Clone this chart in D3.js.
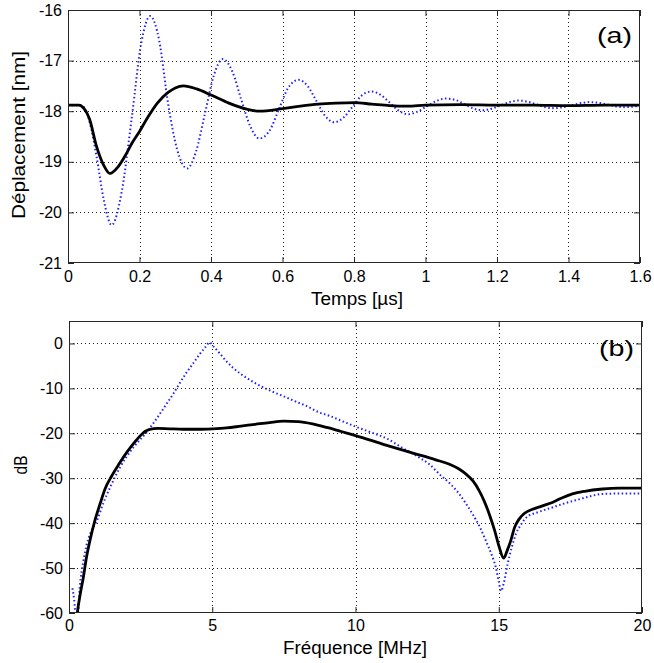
<!DOCTYPE html>
<html>
<head>
<meta charset="utf-8">
<script src="https://cdn.jsdelivr.net/npm/d3@7"></script>
<style>
  html, body { margin: 0; padding: 0; background: #fff; }
  svg { display: block; font-family: "Liberation Sans", Arial, Helvetica, sans-serif; }
</style>
</head>
<body>
<svg id="chart" width="654" height="663"></svg>
<script>
// ---------- Panel (a): time domain ----------
const timeTicks = [0, 0.2, 0.4, 0.6, 0.8, 1, 1.2, 1.4, 1.6];
const dispTicks = [-21, -20, -19, -18, -17, -16];

const timeBlack = [0, 0.03, 0.045, 0.06, 0.08, 0.1, 0.117, 0.14, 0.16, 0.18, 0.2, 0.225, 0.25, 0.28, 0.3, 0.323, 0.36, 0.4, 0.45, 0.5, 0.535, 0.6, 0.65, 0.7, 0.75, 0.8, 0.85, 0.9, 0.95, 1.0, 1.1, 1.2, 1.3, 1.4, 1.5, 1.6];
const dispBlack = [-17.88, -17.88, -17.95, -18.15, -18.7, -19.07, -19.23, -19.1, -18.88, -18.62, -18.4, -18.1, -17.84, -17.63, -17.54, -17.5, -17.56, -17.68, -17.84, -17.96, -18.0, -17.95, -17.9, -17.86, -17.84, -17.83, -17.86, -17.89, -17.9, -17.88, -17.87, -17.88, -17.88, -17.89, -17.88, -17.88];

const timeBlue = [0, 0.035, 0.05, 0.065, 0.08, 0.1, 0.122, 0.15, 0.178, 0.205, 0.23, 0.255, 0.28, 0.305, 0.333, 0.358, 0.383, 0.408, 0.433, 0.46, 0.485, 0.51, 0.535, 0.565, 0.59, 0.615, 0.645, 0.67, 0.695, 0.72, 0.745, 0.77, 0.795, 0.82, 0.848, 0.875, 0.9, 0.925, 0.952, 0.98, 1.0, 1.03, 1.055, 1.085, 1.11, 1.135, 1.16, 1.185, 1.21, 1.235, 1.26, 1.285, 1.31, 1.335, 1.36, 1.385, 1.41, 1.435, 1.46, 1.485, 1.51, 1.535, 1.56, 1.58, 1.6];
const dispBlue = [-17.88, -17.88, -17.98, -18.35, -18.9, -19.75, -20.25, -19.6, -18.15, -16.65, -16.12, -16.6, -17.85, -18.75, -19.13, -18.8, -18.05, -17.29, -16.97, -17.22, -17.78, -18.3, -18.54, -18.37, -17.96, -17.55, -17.38, -17.5, -17.8, -18.1, -18.22, -18.13, -17.92, -17.7, -17.61, -17.68, -17.83, -17.99, -18.06, -18.0, -17.92, -17.8, -17.75, -17.78, -17.865, -17.95, -17.98, -17.95, -17.885, -17.82, -17.79, -17.81, -17.865, -17.92, -17.94, -17.92, -17.88, -17.84, -17.82, -17.835, -17.87, -17.905, -17.92, -17.91, -17.89];

// ---------- Panel (b): frequency domain ----------
const freqTicks = [0, 5, 10, 15, 20];
const dbTicks = [-60, -50, -40, -30, -20, -10, 0];

const freqBlack = [0.2, 0.29, 0.4, 0.5, 0.6, 0.73, 0.9, 1.08, 1.25, 1.49, 1.75, 2.01, 2.25, 2.48, 2.65, 2.82, 3.1, 3.5, 4.0, 4.5, 5.0, 5.5, 6.0, 6.5, 7.0, 7.5, 8.0, 8.5, 9.0, 9.5, 10.0, 11.0, 12.0, 12.8, 13.28, 13.6, 13.86, 14.1, 14.32, 14.5, 14.67, 14.85, 15.02, 15.17, 15.3, 15.42, 15.55, 15.71, 15.9, 16.18, 16.5, 16.87, 17.2, 17.57, 18.0, 18.62, 19.2, 20];
const dbBlack = [-66, -60, -55.5, -52.1, -48, -43.9, -39.5, -35.8, -32.5, -29.5, -26.8, -24.3, -22.3, -20.6, -19.6, -19.1, -18.9, -19.0, -19.1, -19.1, -19.0, -18.8, -18.4, -18.0, -17.6, -17.3, -17.4, -17.9, -18.7, -19.6, -20.5, -22.5, -24.4, -25.9, -26.9, -27.9, -29.1, -30.6, -32.8, -35.2, -38.0, -41.5, -45.4, -47.8, -46.0, -43.9, -41.0, -39.1, -37.8, -36.9, -36.2, -35.4, -34.4, -33.5, -32.9, -32.4, -32.2, -32.2];

const freqBlue = [0.12, 0.18, 0.24, 0.3, 0.38, 0.5, 0.62, 0.8, 0.97, 1.2, 1.43, 1.6, 1.78, 2.0, 2.24, 2.5, 2.71, 2.95, 3.17, 3.4, 3.63, 3.85, 4.1, 4.35, 4.56, 4.75, 4.91, 5.05, 5.26, 5.5, 5.72, 6.0, 6.31, 6.6, 6.89, 7.2, 7.58, 7.9, 8.28, 8.75, 9.09, 9.5, 10, 10.5, 11.07, 11.65, 12.23, 12.6, 12.93, 13.3, 13.62, 13.85, 14.09, 14.35, 14.55, 14.75, 14.9, 15.0, 15.08, 15.17, 15.31, 15.45, 15.6, 15.78, 15.95, 16.4, 16.87, 17.3, 17.8, 18.2, 18.62, 19.3, 20];
const dbBlue = [-54.5, -57, -61, -61, -54, -48.5, -44.7, -41.5, -39.5, -35.5, -32.1, -29.8, -27.6, -25.3, -23.2, -21.3, -19.8, -17.7, -15.7, -13.5, -11.3, -9.0, -6.5, -4.3, -2.4, -0.9, 0.2, -0.7, -2.2, -4.0, -5.4, -6.8, -8.1, -9.2, -10.1, -11.0, -12.0, -12.9, -13.9, -15.4, -16.1, -17.2, -18.5, -19.7, -21.1, -23.3, -25.4, -27.0, -29.1, -31.2, -33.5, -35.6, -38.0, -41.0, -43.9, -47.0, -49.9, -53, -55.1, -53.5, -49.1, -45.5, -42.4, -40.3, -38.8, -37.5, -36.5, -35.6, -34.7, -34.0, -33.5, -33.4, -33.4];

// ---------- drawing ----------
const svg = d3.select("#chart");

function panel(opts) {
  const {left, right, top, bottom, xDomain, yDomain, xTicks, yTicks, series, tag, tagX, tagY, xLabel, xLabelX, xLabelY, xLabelLen, yLabel, yLabelX, yLabelY, yLabelLen, xPad, yPad, id} = opts;
  const x = d3.scaleLinear().domain(xDomain).range([left, right]);
  const y = d3.scaleLinear().domain(yDomain).range([bottom, top]);
  const g = svg.append("g");

  g.append("clipPath").attr("id", id).append("rect")
    .attr("x", left).attr("y", top).attr("width", right - left).attr("height", bottom - top);

  // grid
  const grid = g.append("g").attr("stroke", "#222").attr("stroke-width", 1).attr("stroke-dasharray", "1,3");
  xTicks.forEach(v => {
    const px = Math.round(x(v)) + 0.5;
    if (Math.abs(px - left) > 2 && Math.abs(px - right) > 2)
      grid.append("line").attr("x1", px).attr("x2", px).attr("y1", top).attr("y2", bottom);
  });
  yTicks.forEach(v => {
    const py = Math.round(y(v)) + 0.5;
    if (Math.abs(py - top) > 2 && Math.abs(py - bottom) > 2)
      grid.append("line").attr("x1", left).attr("x2", right).attr("y1", py).attr("y2", py);
  });

  // series
  const plot = g.append("g").attr("clip-path", `url(#${id})`);
  series.forEach(s => {
    const pts = s.xs.map((v, i) => [v, s.ys[i]]);
    const line = d3.line().x(d => x(d[0])).y(d => y(d[1])).curve(d3.curveMonotoneX);
    plot.append("path").attr("d", line(pts)).attr("fill", "none")
      .attr("stroke", s.color).attr("stroke-width", s.width)
      .attr("stroke-dasharray", s.dash || null)
      .attr("stroke-linejoin", "round");
  });

  // axes (ticks inward)
  const fmt = d => String(d);
  const axB = g.append("g").attr("transform", `translate(0,${bottom})`)
    .call(d3.axisBottom(x).tickValues(xTicks).tickFormat(fmt).tickSize(-6).tickPadding(xPad));
  const axT = g.append("g").attr("transform", `translate(0,${top})`)
    .call(d3.axisTop(x).tickValues(xTicks).tickFormat("").tickSize(-6));
  const axL = g.append("g").attr("transform", `translate(${left},0)`)
    .call(d3.axisLeft(y).tickValues(yTicks).tickFormat(fmt).tickSize(-6).tickPadding(yPad));
  const axR = g.append("g").attr("transform", `translate(${right},0)`)
    .call(d3.axisRight(y).tickValues(yTicks).tickFormat("").tickSize(-6));
  [axB, axT, axL, axR].forEach(a => {
    a.select(".domain").remove();
    a.selectAll("line").attr("stroke", "#262626");
    a.selectAll("text").attr("fill", "#000").style("font-size", "16px")
      .style("font-family", '"Liberation Sans", Arial, sans-serif');
  });

  // frame
  g.append("rect").attr("x", left + 0.5).attr("y", top + 0.5)
    .attr("width", right - left - 1).attr("height", bottom - top - 1)
    .attr("fill", "none").attr("stroke", "#262626").attr("stroke-width", 1);

  // labels
  g.append("text").attr("x", xLabelX).attr("y", xLabelY).attr("text-anchor", "middle")
    .style("font-size", "18px").attr("textLength", xLabelLen).attr("lengthAdjust", "spacingAndGlyphs").text(xLabel);
  g.append("text").attr("transform", `translate(${yLabelX},${yLabelY}) rotate(-90)`)
    .attr("text-anchor", "middle").style("font-size", "18px")
    .attr("textLength", yLabelLen).attr("lengthAdjust", "spacingAndGlyphs").text(yLabel);
  g.append("text").attr("x", tagX).attr("y", tagY).attr("text-anchor", "end")
    .style("font-size", "22px").attr("textLength", 35).attr("lengthAdjust", "spacingAndGlyphs").text(tag);
}

panel({
  id: "clipA", left: 68, right: 640, top: 10, bottom: 263,
  xDomain: [0, 1.6], yDomain: [-21, -16], xTicks: timeTicks, yTicks: dispTicks,
  series: [
    {xs: timeBlue, ys: dispBlue, color: "#2020ff", width: 2, dash: "1.5,2.5"},
    {xs: timeBlack, ys: dispBlack, color: "#000", width: 2.8}
  ],
  tag: "(a)", tagX: 632, tagY: 43,
  xLabel: "Temps [µs]", xLabelX: 357, xLabelY: 305, xLabelLen: 92,
  yLabel: "Déplacement [nm]", yLabelX: 25, yLabelY: 135, yLabelLen: 168,
  xPad: 8, yPad: 6
});

panel({
  id: "clipB", left: 69, right: 642, top: 321, bottom: 613,
  xDomain: [0, 20], yDomain: [-60, 5], xTicks: freqTicks, yTicks: dbTicks,
  series: [
    {xs: freqBlue, ys: dbBlue, color: "#2020ff", width: 2, dash: "1.5,2.5"},
    {xs: freqBlack, ys: dbBlack, color: "#000", width: 2.8}
  ],
  tag: "(b)", tagX: 634, tagY: 356,
  xLabel: "Fréquence [MHz]", xLabelX: 355, xLabelY: 654, xLabelLen: 144,
  yLabel: "dB", yLabelX: 27, yLabelY: 465, yLabelLen: 19,
  xPad: 7, yPad: 6
});
</script>
</body>
</html>
